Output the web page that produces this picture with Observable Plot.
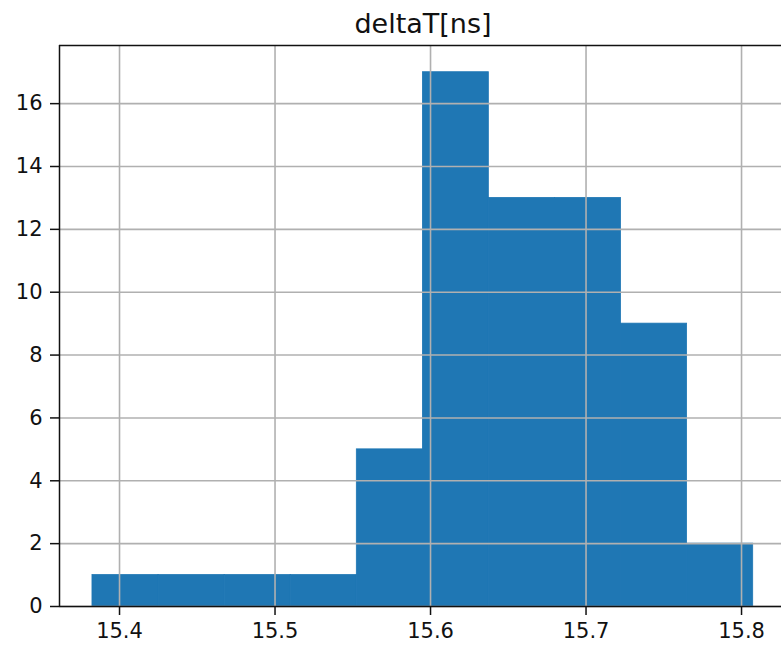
<!DOCTYPE html>
<html>
<head>
<meta charset="utf-8">
<script src="https://cdn.jsdelivr.net/npm/d3@7"></script>
<script src="https://cdn.jsdelivr.net/npm/@observablehq/plot@0.6"></script>
<style>
  html, body { margin: 0; padding: 0; background: white; }
</style>
</head>
<body>
<div id="chart"></div>
<script>
const title = "deltaT[ns]";
const binEdges = [15.3826, 15.4251, 15.4676, 15.5101, 15.5526, 15.5951, 15.6375, 15.6800, 15.7225, 15.7650, 15.8075];
const counts = [1, 1, 1, 1, 5, 17, 13, 13, 9, 2];
const xTicks = [15.4, 15.5, 15.6, 15.7, 15.8];
const yTicks = [0, 2, 4, 6, 8, 10, 12, 14, 16];

const bins = counts.map((c, i) => ({x0: binEdges[i], x1: binEdges[i + 1], count: c}));

const xMin = 15.3614, xMax = 15.8257, yMax = 17.85;

const chart = Plot.plot({
  width: 781,
  height: 645,
  marginLeft: 59,
  marginRight: 0,
  marginTop: 45,
  marginBottom: 39,
  style: {fontFamily: "DejaVu Sans", fontSize: "21px", background: "white", color: "#111"},
  x: {domain: [xMin, xMax]},
  y: {domain: [0, yMax]},
  marks: [
    Plot.rectY(bins, {x1: "x0", x2: "x1", y: "count", fill: "#1f77b4", stroke: "#1f77b4", strokeWidth: 0.8, inset: 0}),
    Plot.gridX(xTicks, {stroke: "#b0b0b0", strokeOpacity: 1, strokeWidth: 1.6}),
    Plot.gridY(yTicks, {stroke: "#b0b0b0", strokeOpacity: 1, strokeWidth: 1.6}),
    Plot.axisX({ticks: xTicks, tickFormat: d => d.toFixed(1), tickSize: 9, tickPadding: 8, fontSize: 21, label: null, stroke: "#111", strokeWidth: 1.5}),
    Plot.axisY({ticks: yTicks, tickSize: 9, tickPadding: 8, fontSize: 21, label: null, stroke: "#111", strokeWidth: 1.5}),
    Plot.ruleX([xMin], {stroke: "#111", strokeWidth: 1.5}),
    Plot.ruleY([0, yMax], {stroke: "#111", strokeWidth: 1.5}),
    Plot.text([title], {frameAnchor: "top", dx: 2.5, dy: -32, fontSize: 27, fill: "#111"})
  ]
});
document.getElementById("chart").appendChild(chart);
</script>
</body>
</html>
